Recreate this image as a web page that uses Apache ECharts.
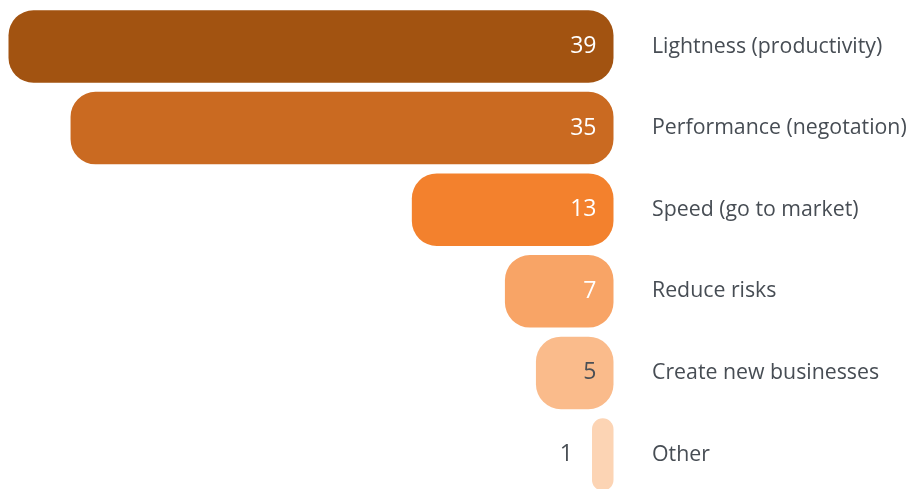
<!DOCTYPE html>
<html>
<head>
<meta charset="utf-8">
<script src="https://cdn.jsdelivr.net/npm/echarts@6/dist/echarts.min.js"></script>
<style>
  html, body { margin: 0; padding: 0; background: #ffffff; }
  #chart { width: 909px; height: 489px; }
</style>
</head>
<body>
<div id="chart"></div>
<script>
// Reasons given, share of respondents
const categories = [
  'Lightness (productivity)',
  'Performance (negotation)',
  'Speed (go to market)',
  'Reduce risks',
  'Create new businesses',
  'Other'
];
const values = [39, 35, 13, 7, 5, 1];
const barColors = ['#A25311', '#CA6A21', '#F3812D', '#F8A466', '#FABB8B', '#FCD4B4'];
const labelColors = ['#ffffff', '#ffffff', '#ffffff', '#ffffff', '#4a4f55', '#4a4f55'];

const FONT = '"Open Sans", "Noto Sans", sans-serif';

const chart = echarts.init(document.getElementById('chart'), null, { renderer: 'canvas' });

const seriesData = values.map((v, i) => {
  const item = {
    value: v,
    itemStyle: { color: barColors[i] },
    label: { color: labelColors[i] }
  };
  if (v < 3) {
    // too narrow for the number: put it to the left of the bar
    item.label.position = 'left';
    item.label.distance = 19;
  }
  return item;
});

chart.setOption({
  animation: false,
  grid: {
    left: 8.5, right: 295.5, top: 5.7, bottom: -6.3,
    containLabel: false,
    outerBoundsMode: 'none'
  },
  xAxis: {
    type: 'value',
    min: 0,
    max: 39,
    inverse: true,
    show: false
  },
  yAxis: {
    type: 'category',
    data: categories,
    inverse: true,
    position: 'right',
    axisLine: { show: false },
    axisTick: { show: false },
    axisLabel: {
      margin: 38.5,
      align: 'left',
      color: '#474d54',
      fontFamily: FONT,
      fontSize: 21.3
    }
  },
  series: [{
    type: 'bar',
    data: seriesData,
    barWidth: 72.5,
    barMinHeight: 21.5,
    itemStyle: { borderRadius: 25 },
    label: {
      show: true,
      position: 'insideRight',
      distance: 17,
      fontFamily: FONT,
      fontSize: 23
    }
  }]
});
</script>
</body>
</html>
